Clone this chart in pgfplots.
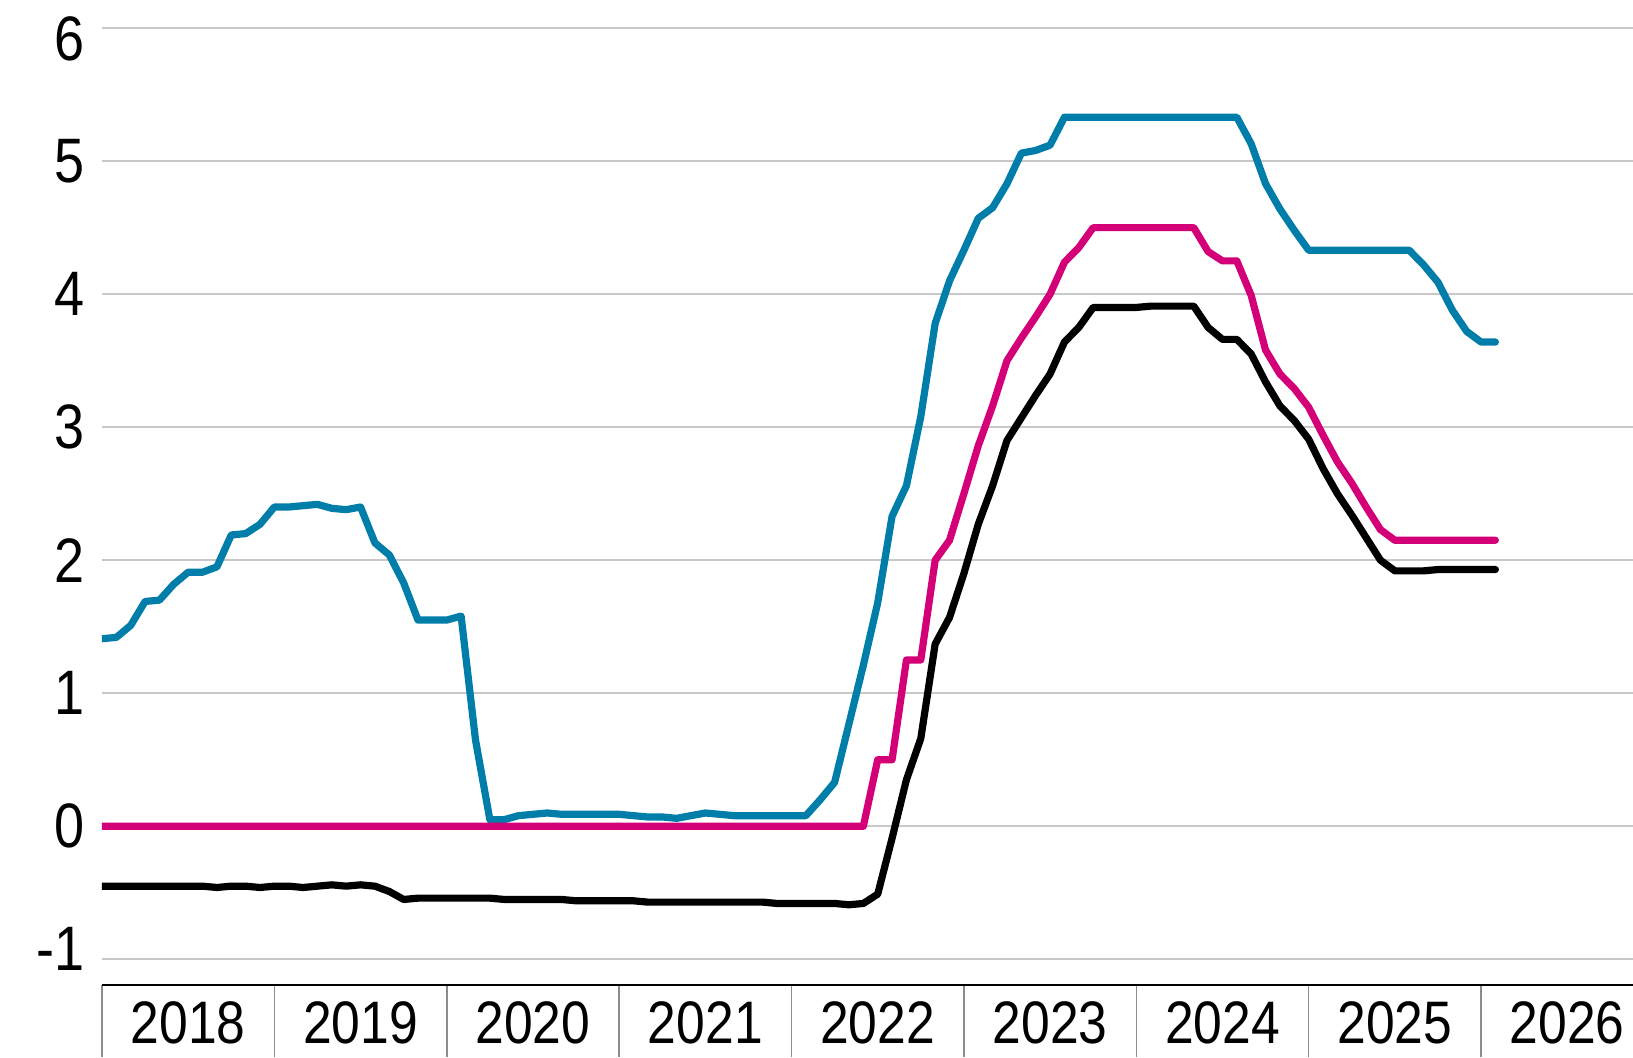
\documentclass[border=0pt]{standalone}
\usepackage{fontspec}
\setmainfont{Liberation Sans}
\newfontfamily\narrowfont{Liberation Sans}[FakeStretch=0.86]
\usepackage{pgfplots}
\pgfplotsset{compat=1.18}
\usepackage{pgfplotstable}
\definecolor{cblue}{HTML}{007DA8}
\definecolor{cmag}{HTML}{D40078}
\definecolor{cgrid}{HTML}{C8C8C8}
\definecolor{csep}{HTML}{8C8C8C}

\pgfplotstableread{
m blue mag blk
0 1.41 0 -0.45
1 1.42 0 -0.45
2 1.51 0 -0.45
3 1.69 0 -0.45
4 1.70 0 -0.45
5 1.82 0 -0.45
6 1.91 0 -0.45
7 1.91 0 -0.45
8 1.95 0 -0.46
9 2.19 0 -0.45
10 2.20 0 -0.45
11 2.27 0 -0.46
12 2.40 0 -0.45
13 2.40 0 -0.45
14 2.41 0 -0.46
15 2.42 0 -0.45
16 2.39 0 -0.44
17 2.38 0 -0.45
18 2.40 0 -0.44
19 2.13 0 -0.45
20 2.04 0 -0.49
21 1.83 0 -0.55
22 1.55 0 -0.54
23 1.55 0 -0.54
24 1.55 0 -0.54
25 1.58 0 -0.54
26 0.65 0 -0.54
27 0.05 0 -0.54
28 0.05 0 -0.55
29 0.08 0 -0.55
30 0.09 0 -0.55
31 0.10 0 -0.55
32 0.09 0 -0.55
33 0.09 0 -0.56
34 0.09 0 -0.56
35 0.09 0 -0.56
36 0.09 0 -0.56
37 0.08 0 -0.56
38 0.07 0 -0.57
39 0.07 0 -0.57
40 0.06 0 -0.57
41 0.08 0 -0.57
42 0.10 0 -0.57
43 0.09 0 -0.57
44 0.08 0 -0.57
45 0.08 0 -0.57
46 0.08 0 -0.57
47 0.08 0 -0.58
48 0.08 0 -0.58
49 0.08 0 -0.58
50 0.20 0 -0.58
51 0.33 0 -0.58
52 0.77 0 -0.59
53 1.21 0 -0.58
54 1.68 0.50 -0.51
55 2.33 0.50 -0.09
56 2.56 1.25 0.35
57 3.08 1.25 0.66
58 3.78 2.00 1.37
59 4.10 2.15 1.57
60 4.33 2.50 1.90
61 4.57 2.86 2.27
62 4.65 3.16 2.56
63 4.83 3.50 2.90
64 5.06 3.67 3.07
65 5.08 3.83 3.24
66 5.12 4.00 3.40
67 5.33 4.24 3.64
68 5.33 4.35 3.75
69 5.33 4.50 3.90
70 5.33 4.50 3.90
71 5.33 4.50 3.90
72 5.33 4.50 3.90
73 5.33 4.50 3.91
74 5.33 4.50 3.91
75 5.33 4.50 3.91
76 5.33 4.50 3.91
77 5.33 4.32 3.75
78 5.33 4.25 3.66
79 5.33 4.25 3.66
80 5.13 3.99 3.55
81 4.83 3.58 3.34
82 4.64 3.40 3.16
83 4.48 3.29 3.05
84 4.33 3.15 2.91
85 4.33 2.94 2.69
86 4.33 2.74 2.50
87 4.33 2.58 2.34
88 4.33 2.40 2.17
89 4.33 2.23 2.00
90 4.33 2.15 1.92
91 4.33 2.15 1.92
92 4.22 2.15 1.92
93 4.09 2.15 1.93
94 3.88 2.15 1.93
95 3.72 2.15 1.93
96 3.64 2.15 1.93
97 3.64 2.15 1.93
}\rates

\begin{document}
\begin{tikzpicture}
\begin{axis}[
  at={(0,0)}, anchor=south west,
  scale only axis, width=765.5pt, height=492.5pt,
  xmin=0, xmax=106.58, ymin=-1.193, ymax=6.211,
  axis x line*=bottom, axis y line*=left,
  x axis line style={black, line width=1.25pt, -},
  y axis line style={draw=none},
  xtick={0,12,...,96}, xticklabels={},
  xtick style={draw=csep, line width=0.75pt},
  major tick length=36pt, tick align=outside,
  extra x ticks={6,18,30,42,54,66,78,90,102},
  extra x tick labels={2018,2019,2020,2021,2022,2023,2024,2025,2026},
  extra x tick style={grid=none, major tick length=0pt,
    tick style={draw=none},
    xticklabel style={anchor=base, yshift=-29pt, inner sep=0pt,
      font=\narrowfont\fontsize{30}{34}\selectfont}},
  ytick={-1,0,1,2,3,4,5,6},
  yticklabels={{\raisebox{5pt}[\height][\depth]{-1}},0,1,2,3,4,5,{\raisebox{-5.5pt}[\height][\depth]{6}}},
  ytick style={draw=none},
  yticklabel style={anchor=east, inner sep=0pt, xshift=27.5pt,
    font=\narrowfont\fontsize{31.4}{36}\selectfont},
  ymajorgrids, grid style={cgrid, line width=1pt},
  clip=true,
]
\addplot[cblue, line width=3.6pt, line join=round, line cap=round] table[x=m, y=blue] {\rates};
\addplot[cmag, line width=3.6pt, line join=round, line cap=round] table[x=m, y=mag] {\rates};
\addplot[black, line width=3.6pt, line join=round, line cap=round] table[x=m, y=blk] {\rates};
\end{axis}
\pgfresetboundingbox
\useasboundingbox (-51pt,-36pt) rectangle (765.5pt,492.5pt);
\end{tikzpicture}
\end{document}
